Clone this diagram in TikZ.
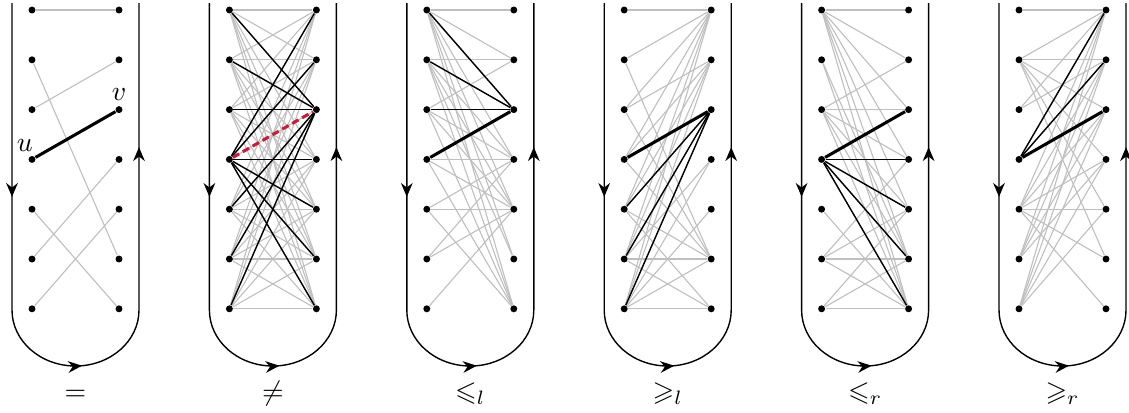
\documentclass[tikz,border=0pt]{standalone}
\usepackage{amssymb}
\usepackage{amsmath}
\usepackage{tikz}
\usetikzlibrary{positioning,arrows.meta,backgrounds,decorations.markings}
\definecolor{uvred}{HTML}{C41E3A}

\begin{document}
\begin{tikzpicture}[
  x=0.36pt, y=0.36pt,
  dot/.style={circle, fill=black, inner sep=0pt, minimum size=2.5pt},
  gedge/.style={draw=gray!50, line width=0.4pt},
  bedge/.style={draw=black, line width=0.5pt},
  uvedge/.style={draw=black, line width=1.1pt},
  redge/.style={draw=uvred, line width=1.1pt, dash pattern=on 2.6pt off 1.5pt},
  bound/.style={draw=black, line width=0.5pt, postaction={decorate},
    decoration={markings,
      mark=at position 69.8pt with {\arrow{Stealth[length=5pt,width=4.2pt]}},
      mark=at position 146.7pt with {\arrow{Stealth[length=5pt,width=4.2pt]}},
      mark=at position 236.8pt with {\arrow{Stealth[length=5pt,width=4.2pt]}}}},
  lbl/.style={inner sep=0pt},
  rel/.style={inner sep=0pt, anchor=base},
]
  \useasboundingbox (0,0) rectangle (1129,-412);

  % Six panels: two columns of seven vertices each
  \foreach \p in {1,...,6} {
    \foreach \k in {1,...,7} {
      \node[dot] (L\p-\k) at ({32+197.4*(\p-1)}, {-10-49.8*(\k-1)}) {};
      \node[dot] (R\p-\k) at ({119+197.4*(\p-1)}, {-10-49.8*(\k-1)}) {};
    }
  }

  % Boundary walk: down the left side, round the bottom, up the right side
  \foreach \p in {1,...,6} {
    \pgfmathsetmacro\bl{12+197.4*(\p-1)}
    \pgfmathsetmacro\bc{75.5+197.4*(\p-1)}
    \pgfmathsetmacro\br{139+197.4*(\p-1)}
    \draw[bound] (\bl,-3) -- (\bl,-310)
      .. controls (\bl,-341) and ({\bc-35},-366) .. (\bc,-366)
      .. controls ({\bc+35},-366) and (\br,-341) .. (\br,-310) -- (\br,-3);
    \node[rel] (lab\p) at (\bc,-400) {};
  }

  \begin{scope}[on background layer]
    % = : the matching itself
    \foreach \i/\s in {1/1,2/6,3/2,5/7,6/4,7/5}
      \draw[gedge] (L1-\i) -- (R1-\s);

    % \neq : every pair
    \foreach \i in {1,...,7}
      \foreach \j in {1,...,7}
        \draw[gedge] (L2-\i) -- (R2-\j);
    \foreach \j in {1,2,4,5,6,7}
      \draw[bedge] (L2-4) -- (R2-\j);
    \foreach \i in {1,2,3,5,6,7}
      \draw[bedge] (L2-\i) -- (R2-3);

    % left orders (same right end)
    \foreach \j/\m in {1/1,2/3,3/4,4/6,5/7,6/2,7/5} {
      \foreach \i in {1,...,\m}
        \draw[gedge] (L3-\i) -- (R3-\j);
      \foreach \i in {\m,...,7}
        \draw[gedge] (L4-\i) -- (R4-\j);
    }
    \foreach \i in {1,2,3}
      \draw[bedge] (L3-\i) -- (R3-3);
    \foreach \i in {5,6,7}
      \draw[bedge] (L4-\i) -- (R4-3);

    % right orders (same left end)
    \foreach \i/\s in {1/1,2/6,3/2,4/3,5/7,6/4,7/5} {
      \foreach \j in {\s,...,7}
        \draw[gedge] (L5-\i) -- (R5-\j);
      \foreach \j in {1,...,\s}
        \draw[gedge] (L6-\i) -- (R6-\j);
    }
    \foreach \j in {4,5,6,7}
      \draw[bedge] (L5-4) -- (R5-\j);
    \foreach \j in {1,2}
      \draw[bedge] (L6-4) -- (R6-\j);

    % the edge uv
    \foreach \p in {1,3,4,5,6}
      \draw[uvedge] (L\p-4) -- (R\p-3);
  \end{scope}
  \draw[redge] (L2-4) -- (R2-3);

  \node[lbl, above left=1.8pt and -1.5pt of L1-4] (u) {$u$};
  \node[lbl, above=1.5pt of R1-3] (v) {$v$};

  % relation under each panel
  \node[rel] at (lab1) {$=$};
  \node[rel] at (lab2) {$\neq$};
  \node[rel] at (lab3) {$\leqslant_l$};
  \node[rel] at (lab4) {$\geqslant_l$};
  \node[rel] at (lab5) {$\leqslant_r$};
  \node[rel] at (lab6) {$\geqslant_r$};
\end{tikzpicture}
\end{document}
